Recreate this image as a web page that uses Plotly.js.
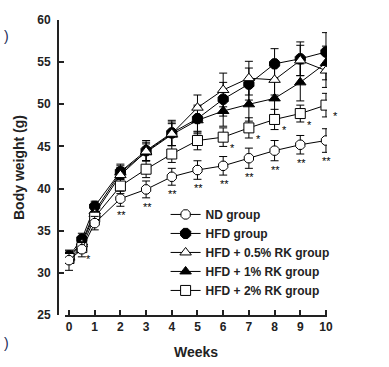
<!DOCTYPE html>
<html><head><meta charset="utf-8">
<script src="https://cdn.plot.ly/plotly-3.0.1.min.js"></script>
<style>html,body{margin:0;padding:0;background:#fff}#chart{width:389px;height:367px}</style>
</head><body><div id="chart"></div>
<script>
const weeks = [0, 0.5, 1, 2, 3, 4, 5, 6, 7, 8, 9, 10];
const xTicks = [0,1,2,3,4,5,6,7,8,9,10];
const seriesNames = ["ND group", "HFD group", "HFD + 0.5% RK group", "HFD + 1% RK group", "HFD + 2% RK group"];
const ndMean   = [31.5, 32.8, 35.9, 38.8, 39.9, 41.4, 42.2, 42.7, 43.6, 44.5, 45.2, 45.7];
const ndSd     = [1.2, 0.9, 0.8, 0.9, 1.0, 1.0, 1.1, 1.1, 1.2, 1.2, 1.1, 1.4];
const hfdMean  = [32.0, 34.0, 37.9, 42.0, 44.5, 46.6, 48.3, 50.6, 52.4, 54.8, 55.4, 56.2];
const hfdSd    = [0.6, 0.7, 0.6, 0.9, 1.2, 1.5, 1.6, 2.0, 1.9, 1.8, 2.0, 2.3];
const rk05Mean = [31.8, 33.4, 37.0, 41.6, 44.4, 46.5, 49.6, 51.7, 53.1, 52.9, 55.2, 54.0];
const rk05Sd   = [0.5, 0.6, 0.6, 0.9, 1.1, 1.4, 1.5, 2.0, 2.0, 1.8, 1.8, 2.0];
const rk1Mean  = [31.9, 33.6, 37.3, 41.9, 44.3, 46.4, 48.1, 49.2, 50.0, 50.7, 52.6, 54.9];
const rk1Sd    = [0.5, 0.6, 0.6, 0.8, 1.0, 1.3, 1.6, 1.8, 2.0, 2.0, 2.2, 2.0];
const rk2Mean  = [31.7, 33.0, 36.6, 40.3, 42.3, 44.1, 45.7, 46.1, 47.2, 48.2, 48.9, 49.9];
const rk2Sd    = [0.5, 0.6, 0.7, 0.9, 1.0, 1.0, 1.1, 1.1, 1.2, 1.2, 1.0, 1.4];
const ndStars  = ["", "*", "", "**", "**", "**", "**", "**", "**", "**", "**", "**"];
const rk2Stars = ["", "", "", "", "", "", "", "*", "*", "*", "*", "*"];

const means = [ndMean, hfdMean, rk05Mean, rk1Mean, rk2Mean];
const sds = [ndSd, hfdSd, rk05Sd, rk1Sd, rk2Sd];
const symbols = ["octagon", "octagon", "triangle-up", "triangle-up", "square"];
const fills = ["#fff", "#000", "#fff", "#000", "#fff"];
const sizes = [10, 11, 10, 10, 10];

const traces = means.map((m, i) => ({
  type: "scatter", mode: "lines+markers", name: seriesNames[i],
  x: weeks, y: m, legendrank: i,
  line: {color: "#000", width: 1},
  marker: {symbol: symbols[i], size: sizes[i], color: fills[i], line: {color: "#000", width: 1}},
  error_y: {type: "data", array: sds[i], visible: true, color: "#000", thickness: 1, width: 4}
}));
const order = [1, 3, 2, 4, 0];
const data = order.map(i => traces[i]);

const starFont = {family: "Liberation Sans, Arial", size: 11, color: "#000"};
const ann = [];
weeks.forEach((w, i) => {
  if (ndStars[i]) ann.push({x: w, y: ndMean[i] - ndSd[i], xref: "x", yref: "y", text: ndStars[i],
    showarrow: false, yanchor: "top", yshift: ndStars[i] === "*" ? 6 : -1, xshift: ndStars[i] === "*" ? 7 : 1,
    font: starFont});
  if (rk2Stars[i]) ann.push({x: w, y: rk2Mean[i], xref: "x", yref: "y", text: rk2Stars[i],
    showarrow: false, xanchor: "left", yanchor: "top", xshift: 5, yshift: -3, font: starFont});
});
ann.push({x: -0.208, y: 0.98, xref: "paper", yref: "paper", text: ")", showarrow: false, xanchor: "left",
  font: {family: "Liberation Sans, Arial", size: 14, color: "#1a2a55"}});
ann.push({x: -0.208, y: -0.13, xref: "paper", yref: "paper", text: ")", showarrow: false, xanchor: "left",
  font: {family: "Liberation Sans, Arial", size: 14, color: "#1a2a55"}});

const layout = {
  width: 389, height: 367,
  margin: {l: 58, r: 62, t: 20, b: 52},
  paper_bgcolor: "#fff", plot_bgcolor: "#fff",
  font: {family: "Liberation Sans, Arial", color: "#222"},
  showlegend: true,
  legend: {x: 0.40, y: 0.39, xanchor: "left", yanchor: "top", bgcolor: "rgba(0,0,0,0)",
           font: {family: "Liberation Sans, Arial", size: 12, color: "#222", weight: "bold"},
           tracegroupgap: 0, itemwidth: 30},
  xaxis: {domain: [0.026, 1], range: [-0.156, 10.04], tickvals: xTicks, ticktext: xTicks.map(String),
          showline: true, linecolor: "#222", linewidth: 2, ticks: "inside", ticklen: 5, tickwidth: 2, tickcolor: "#222",
          showgrid: false, zeroline: false,
          tickfont: {size: 12, weight: "bold", color: "#222"},
          title: {text: "Weeks", font: {size: 14, weight: "bold", color: "#222"}, standoff: 14}},
  yaxis: {anchor: "free", position: 0, range: [25, 60], dtick: 5,
          showline: true, linecolor: "#222", linewidth: 2, ticks: "inside", ticklen: 5, tickwidth: 2, tickcolor: "#222",
          showgrid: false, zeroline: false, ticklabelstandoff: 4,
          tickfont: {size: 12, weight: "bold", color: "#222"},
          title: {text: "Body weight (g)", font: {size: 14, weight: "bold", color: "#222"}, standoff: 8}},
  annotations: ann
};
Plotly.newPlot("chart", data, layout, {displayModeBar: false, staticPlot: true});
</script></body></html>
